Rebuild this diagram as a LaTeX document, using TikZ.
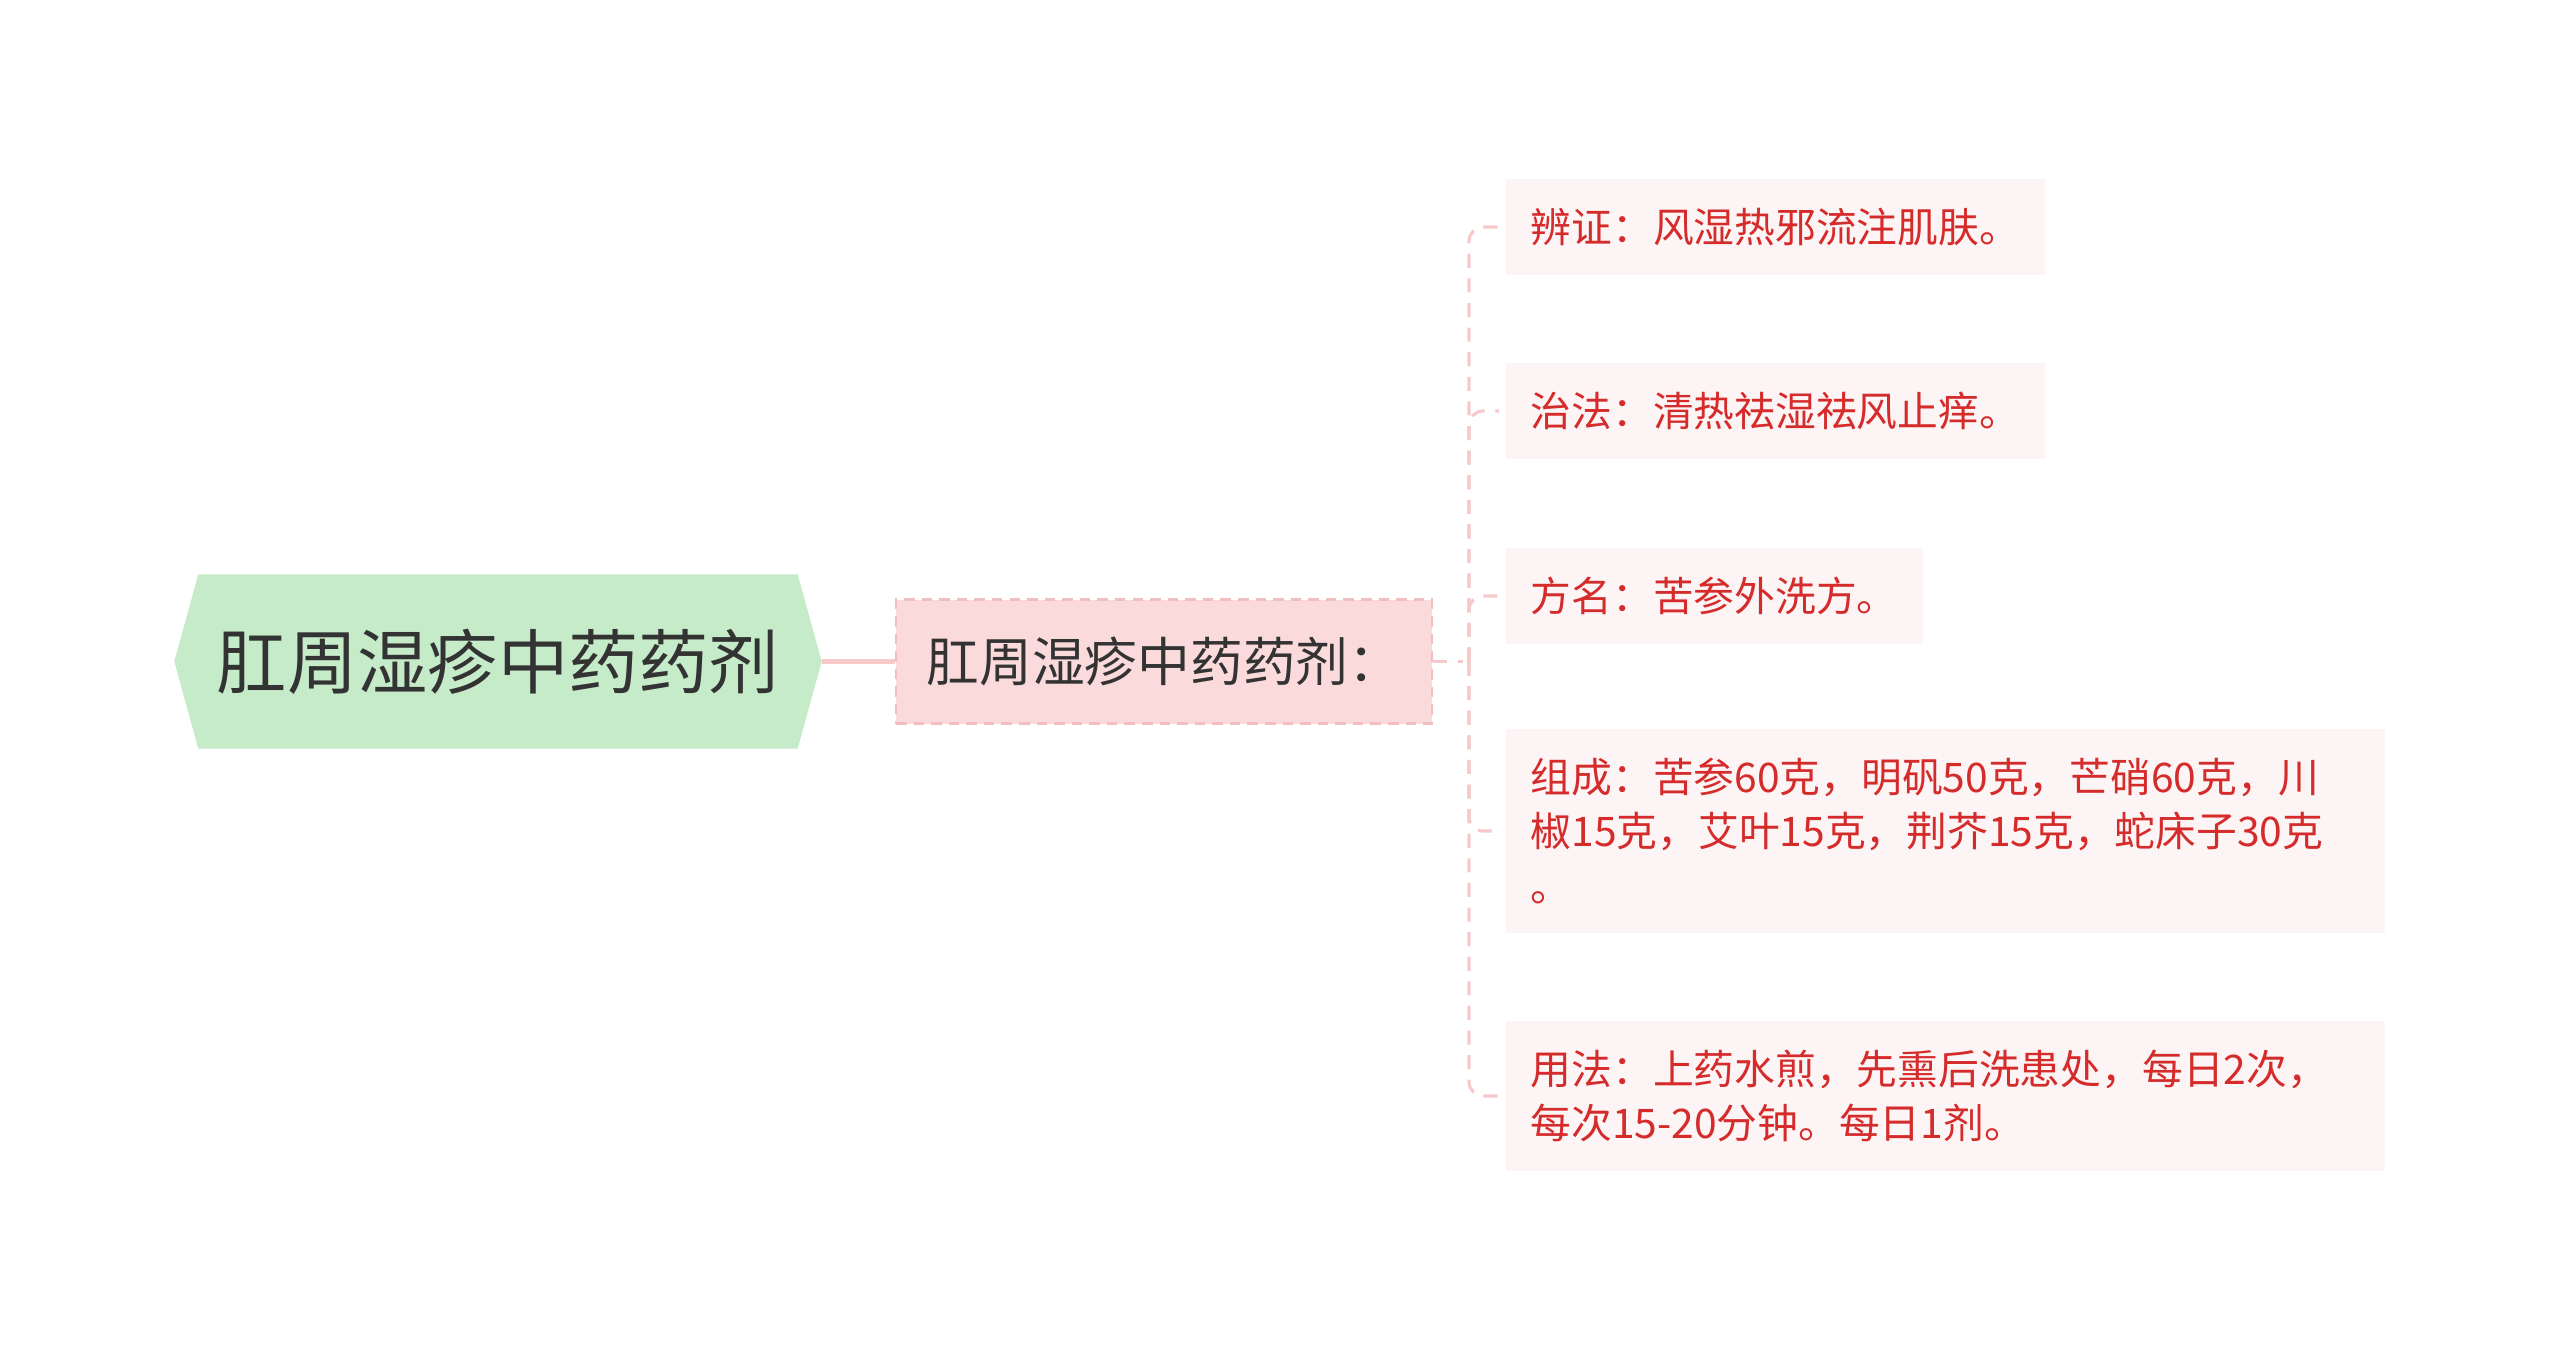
\documentclass[tikz,border=0pt]{standalone}
\usepackage{fontspec}
\setmainfont{Noto Sans CJK SC}
\usetikzlibrary{backgrounds}
\definecolor{rootgreen}{HTML}{C5EBC9}
\definecolor{midpink}{HTML}{FADADB}
\definecolor{midline}{HTML}{F2BFC0}
\definecolor{leafpink}{HTML}{FDF5F5}
\definecolor{leafred}{HTML}{D52B2B}
\definecolor{linkpink}{HTML}{F6CACB}
\definecolor{darktext}{HTML}{333333}

\begin{document}
\begin{tikzpicture}[
  root/.style={minimum width=6.46cm, minimum height=1.73cm, inner sep=0pt, text=darktext, font=\fontsize{20}{24}\selectfont},
  topic/.style={fill=midpink, draw=midline, dash pattern=on 3pt off 2pt, line width=0.8pt, minimum width=5.36cm, minimum height=1.24cm, text=darktext, font=\fontsize{15}{18}\selectfont},
  leaf/.style={fill=leafpink, anchor=west, inner xsep=0.25cm, inner ysep=0.29cm, align=left, text=leafred, font=\fontsize{11.6}{15.4}\selectfont},
  link/.style={draw=linkpink, line width=1.5pt},
  branch/.style={draw=linkpink, dash pattern=on 4pt off 3pt, line width=0.9pt, rounded corners=4pt, shorten >=0.6mm},
]
  \useasboundingbox (0,0) rectangle (25.6,-13.48);

  \node[root] (root) at (4.98,-6.615) {肛周湿疹中药药剂};
  \begin{scope}[on background layer]
    \fill[rootgreen] (root.west) -- ([xshift=2.4mm]root.north west) -- ([xshift=-2.4mm]root.north east)
      -- (root.east) -- ([xshift=-2.4mm]root.south east) -- ([xshift=2.4mm]root.south west) -- cycle;
  \end{scope}

  \node[topic] (mid) at (11.64,-6.615) {肛周湿疹中药药剂：};

  \node[leaf] (bz) at (15.05,-2.27)  {辨证：风湿热邪流注肌肤。};
  \node[leaf] (zf) at (15.05,-4.11)  {治法：清热祛湿祛风止痒。};
  \node[leaf] (fm) at (15.05,-5.96)  {方名：苦参外洗方。};
  \node[leaf, text width=8.29cm] (zc) at (15.05,-8.31) {组成：苦参60克，明矾50克，芒硝60克，川\\椒15克，艾叶15克，荆芥15克，蛇床子30克\\。};
  \node[leaf, text width=8.29cm] (yf) at (15.05,-10.96) {用法：上药水煎，先熏后洗患处，每日2次，\\每次15-20分钟。每日1剂。};

  \draw[link] (root.east) -- (mid.west);
  \coordinate (hub) at (14.69,-6.615);
  \draw[branch] (mid.east) -- (hub);
  \foreach \leafname in {bz,zf,fm,zc,yf}
    \draw[branch] (hub) |- (\leafname.west);
\end{tikzpicture}
\end{document}
